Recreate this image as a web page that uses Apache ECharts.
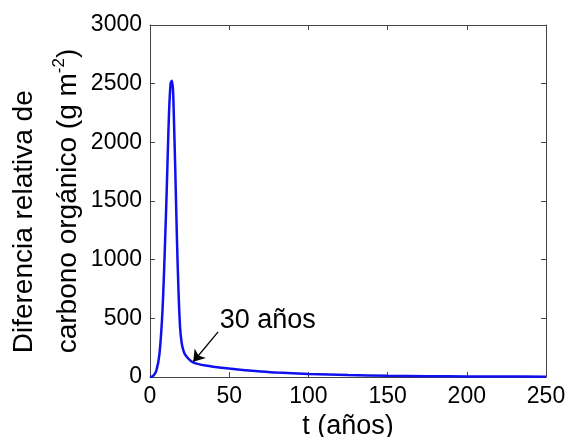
<!DOCTYPE html>
<html>
<head>
<meta charset="utf-8">
<script src="https://cdn.jsdelivr.net/npm/echarts@6/dist/echarts.min.js"></script>
<style>
  html, body { margin: 0; padding: 0; background: #fff; }
  #chart { width: 567px; height: 437px; }
</style>
</head>
<body>
<div id="chart"></div>
<script>
// Datos
const anos = [0, 2, 4, 6, 8, 10, 11, 12, 13, 13.8, 14.5, 15, 16, 17, 18, 19, 20, 21, 22, 24, 26, 28, 30, 35, 40, 50, 60, 70, 80, 100, 125, 150, 175, 200, 225, 250];
const carbono = [0, 10, 55, 200, 600, 1350, 1800, 2250, 2500, 2525, 2450, 2250, 1740, 1180, 730, 420, 290, 230, 195, 160, 135, 120, 112, 98, 88, 72, 58, 47, 38, 26, 16, 10, 7, 5, 4, 3];

const xTicks = [0, 50, 100, 150, 200, 250];
const yTicks = [0, 500, 1000, 1500, 2000, 2500, 3000];

// anotacion
const flechaDesde = [43, 385];
const flechaHasta = [27.3, 130];
const textoPos = [44, 484];
const textoAnot = '30 años';

const font = 'Liberation Sans, Arial, sans-serif';

var chartDom = document.getElementById('chart');
var myChart = echarts.init(chartDom);

const serie = anos.map((t, i) => [t, carbono[i]]);

const boxAxis = {
  axisLine: { show: true, onZero: false, lineStyle: { color: '#444', width: 1 } },
  axisTick: { show: true, inside: true, length: 5, lineStyle: { color: '#444' } },
  axisLabel: { show: false },
  splitLine: { show: false },
};

var option = {
  animation: false,
  backgroundColor: '#fff',
  grid: { left: 150, right: 21, top: 25, bottom: 60, containLabel: false, outerBoundsMode: 'none' },
  xAxis: [
    {
      type: 'value',
      min: 0,
      max: 250,
      interval: 50,
      position: 'bottom',
      name: 't (años)',
      nameLocation: 'middle',
      nameGap: 31,
      nameTextStyle: { fontFamily: font, fontSize: 27, color: '#000' },
      axisLine: { show: true, onZero: false, lineStyle: { color: '#444', width: 1 } },
      axisTick: { show: true, inside: true, length: 5, lineStyle: { color: '#444' } },
      axisLabel: {
        fontFamily: font, fontSize: 23, color: '#000', margin: 8,
        formatter: (v) => (xTicks.includes(v) ? String(v) : ''),
      },
      splitLine: { show: false },
    },
    Object.assign({ type: 'value', min: 0, max: 250, interval: 50, position: 'top' }, boxAxis),
  ],
  yAxis: [
    {
      type: 'value',
      min: 0,
      max: 3000,
      interval: 500,
      position: 'left',
      name: '{a|Diferencia relativa de}\n{a|carbono orgánico (g m}{sup|-2}{a|)}',
      nameLocation: 'middle',
      nameGap: 60,
      nameMoveOverlap: false,
      nameTextStyle: {
        fontFamily: font, fontSize: 28, color: '#000', lineHeight: 44,
        rich: {
          a: { fontFamily: font, fontSize: 28, color: '#000', lineHeight: 44, align: 'left' },
          sup: { fontFamily: font, fontSize: 17, color: '#000', verticalAlign: 'top', lineHeight: 44, padding: [5, 0, 0, 0], align: 'left' },
        },
      },
      axisLine: { show: true, onZero: false, lineStyle: { color: '#444', width: 1 } },
      axisTick: { show: true, inside: true, length: 5, lineStyle: { color: '#444' } },
      axisLabel: {
        fontFamily: font, fontSize: 23, color: '#000', margin: 8,
        formatter: (v) => (yTicks.includes(v) ? String(v) : ''),
      },
      splitLine: { show: false },
    },
    Object.assign({ type: 'value', min: 0, max: 3000, interval: 500, position: 'right' }, boxAxis),
  ],
  series: [
    {
      type: 'line',
      data: serie,
      smooth: 0.3,
      showSymbol: false,
      lineStyle: { color: '#1010ee', width: 2.5 },
      markLine: {
        silent: true,
        symbol: ['none', 'arrow'],
        symbolSize: 11,
        lineStyle: { color: '#000', width: 1.3, type: 'solid' },
        label: { show: false },
        data: [[{ coord: flechaDesde }, { coord: flechaHasta }]],
      },
      markPoint: {
        silent: true,
        symbol: 'circle',
        symbolSize: 0,
        label: {
          show: true,
          position: 'right',
          distance: 0,
          fontFamily: font,
          fontSize: 27,
          color: '#000',
          formatter: textoAnot,
        },
        data: [{ coord: textoPos }],
      },
    },
  ],
};

option && myChart.setOption(option);
</script>
</body>
</html>
